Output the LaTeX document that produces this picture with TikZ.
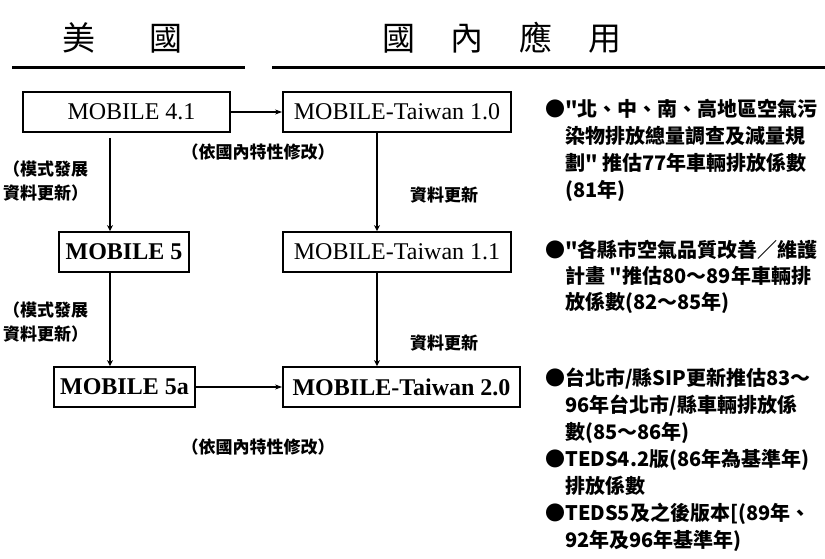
\documentclass[tikz,border=0pt]{standalone}
\usepackage{fontspec}
\setmainfont{Liberation Serif}
\newfontfamily\cjk{Noto Sans CJK TC}
\usetikzlibrary{arrows.meta}
\begin{document}
\begin{tikzpicture}[x=1pt,y=-1pt,
  box/.style={draw,line width=1.8pt,inner sep=0pt,minimum height=40pt,
    font=\fontsize{24}{26}\selectfont},
  boldbox/.style={box,font=\bfseries\fontsize{24}{26}\selectfont},
  vconn/.style={line width=2.8pt,-{Stealth[length=6pt,width=6pt]}},
  hconn/.style={line width=1.6pt,-{Stealth[length=7pt,width=5pt]}},
  lbl/.style={font=\cjk\bfseries\fontsize{17}{24}\selectfont,inner sep=0pt},
  head/.style={font=\cjk\fontsize{33}{36}\selectfont,inner sep=0pt},
  rt/.style={font=\cjk\bfseries\fontsize{20}{26}\selectfont,anchor=west,
    inner sep=0pt,text height=15pt,text depth=5pt},
  rule/.style={line width=3pt}]
\useasboundingbox (0,0) rectangle (825,559);

% headings
\node[head] (hus) at (122.5,38) {美\hspace{54pt}國};
\node[head] (htw) at (502,38) {國\hspace{36pt}內\hspace{36pt}應\hspace{36pt}用};
\coordinate (r1a) at (12,68);  \coordinate (r1b) at (245,68);
\coordinate (r2a) at (272,68); \coordinate (r2b) at (825,68);
\draw[rule] (r1a) -- (r1b);
\draw[rule] (r2a) -- (r2b);

% boxes
\node[box,minimum width=207pt] (m41) at (126.5,112) {\hspace{10pt}MOBILE 4.1};
\node[box,minimum width=228pt] (t10) at (397,112) {MOBILE-Taiwan 1.0};
\node[boldbox,minimum width=130pt] (m5) at (124,252) {MOBILE 5};
\node[box,minimum width=228pt] (t11) at (397,252) {MOBILE-Taiwan 1.1};
\node[boldbox,minimum width=141pt] (m5a) at (124.5,387) {MOBILE 5a};
\node[boldbox,minimum width=237pt] (t20) at (401.5,387) {MOBILE-Taiwan 2.0};

% connector columns
\coordinate (lx) at (110,0);
\coordinate (rx) at (377,0);
\coordinate (ls) at (110,138);

\draw[hconn] (m41.east) -- (t10.west);
\draw[hconn] (m5a.east) -- (t20.west);
\draw[vconn] (ls) -- (m5.north -| lx);
\draw[vconn] (m5.south -| lx) -- (m5a.north -| lx);
\draw[vconn] (t10.south -| rx) -- (t11.north -| rx);
\draw[vconn] (t11.south -| rx) -- (t20.north -| rx);

% labels
\node[lbl] (mod1) at (258,152) {（依國內特性修改）};
\node[lbl] (mod2) at (258,447) {（依國內特性修改）};
\node[lbl,anchor=west,align=left] (dev1) at (3,181) {（模式發展\\資料更新）};
\node[lbl,anchor=west,align=left] (dev2) at (3,322) {（模式發展\\資料更新）};
\node[lbl] (upd1) at (444,195) {資料更新};
\node[lbl] (upd2) at (444,343) {資料更新};

% right column
\node[rt] (a1) at (545,112) {●"北、中、南、高地區空氣污};
\node[rt] (a2) at (565,138.7) {染物排放總量調查及減量規};
\node[rt] (a3) at (565,165.4) {劃"\ 推估77年車輛排放係數};
\node[rt] (a4) at (565,192) {(81年)};

\node[rt] (b1) at (545,252) {●"各縣市空氣品質改善／維護};
\node[rt] (b2) at (565,278) {計畫 "推估80～89年車輛排};
\node[rt] (b3) at (565,304) {放係數(82～85年)};

\node[rt] (c1) at (545,380) {●台北市/縣SIP更新推估83～};
\node[rt] (c2) at (565,407) {96年台北市/縣車輛排放係};
\node[rt] (c3) at (565,434) {數(85～86年)};
\node[rt] (c4) at (545,461) {●TEDS4.2版(86年為基準年)};
\node[rt] (c5) at (565,488) {排放係數};
\node[rt] (c6) at (545,515) {●TEDS5及之後版本[(89年、};
\node[rt] (c7) at (565,542) {92年及96年基準年)};
\end{tikzpicture}
\end{document}
